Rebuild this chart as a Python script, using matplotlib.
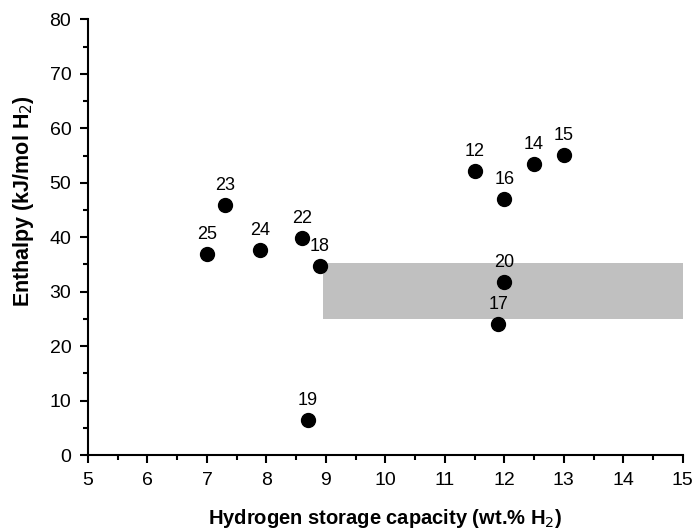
import matplotlib.pyplot as plt
from matplotlib.ticker import MultipleLocator

plt.rcParams["font.family"] = ["Liberation Sans", "DejaVu Sans"]

labels = ["25", "23", "24", "22", "18", "19", "12", "14", "15", "16", "20", "17"]
capacity = [7.0, 7.3, 7.9, 8.6, 8.9, 8.7, 11.5, 12.5, 13.0, 12.0, 12.0, 11.9]
enthalpy = [36.9, 45.9, 37.6, 39.9, 34.7, 6.4, 52.2, 53.5, 55.1, 47.0, 31.8, 24.0]

# target window
box_x = (8.95, 15)
box_y = (25, 35.3)

fig = plt.figure(figsize=(6.94, 5.32), dpi=100)
ax = fig.add_axes([0.1268, 0.1447, 0.857, 0.8187])

ax.axvspan(*box_x, ymin=box_y[0] / 80, ymax=box_y[1] / 80, color="#c0c0c0", lw=0, zorder=1)
ax.plot(capacity, enthalpy, "o", color="black", markersize=10, zorder=3)
for lab, x, y in zip(labels, capacity, enthalpy):
    ax.annotate(lab, (x, y), xytext=(0, 8), textcoords="offset points",
                ha="center", va="bottom", fontsize=13, zorder=4)

ax.set_xlim(5, 15)
ax.set_ylim(0, 80)
ax.xaxis.set_major_locator(MultipleLocator(1))
ax.xaxis.set_minor_locator(MultipleLocator(0.5))
ax.yaxis.set_major_locator(MultipleLocator(10))
ax.yaxis.set_minor_locator(MultipleLocator(5))

for s in ["top", "right"]:
    ax.spines[s].set_visible(False)
for s in ["left", "bottom"]:
    ax.spines[s].set_linewidth(1.5)

ax.tick_params(which="major", direction="out", length=6, width=1.5, labelsize=14, pad=6)
ax.tick_params(which="minor", direction="out", length=3.5, width=1.5)

ax.set_xlabel("Hydrogen storage capacity (wt.% H$_2$)", fontsize=14.5, fontweight="bold", labelpad=13)
ax.set_ylabel("Enthalpy (kJ/mol H$_2$)", fontsize=15.5, fontweight="bold")
ax.yaxis.set_label_coords(-0.087, 0.583)

plt.savefig("out.png", dpi=100)
plt.close()
